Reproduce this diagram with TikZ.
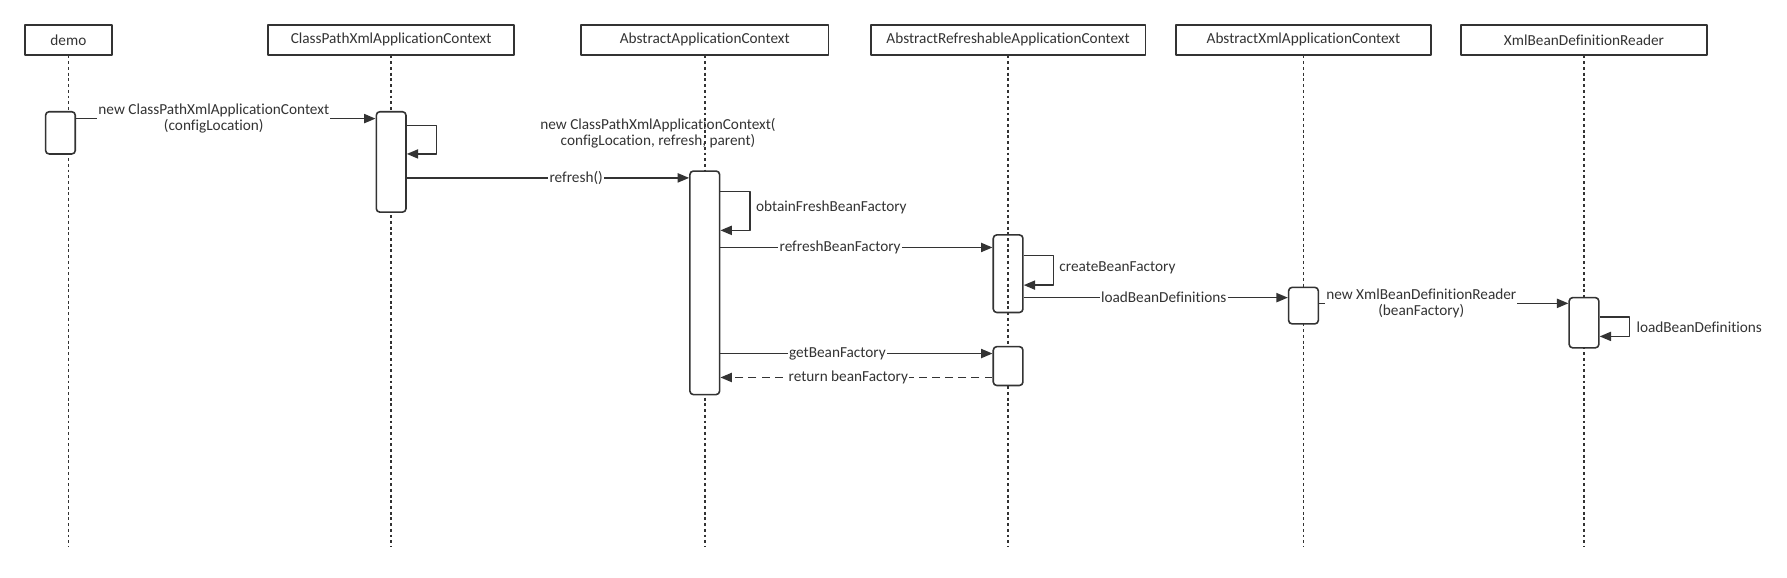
\documentclass[tikz,border=0pt]{standalone}
\usepackage{fontspec}
\setmainfont{Carlito}[Ligatures=CommonOff]
\usetikzlibrary{arrows.meta}
\definecolor{ink}{HTML}{333333}
\begin{document}
\begin{tikzpicture}[x=1pt,y=-1pt,line width=1.4pt,font=\fontsize{13.4}{14}\selectfont,color=ink,line join=round,>={Triangle[length=10pt,width=8pt]},
  head/.style={draw,minimum height=26pt,inner sep=0pt,line width=1.5pt},
  life/.style={line width=1.5pt,dash pattern=on 2.5pt off 2.5pt},
  act/.style={draw,fill=white,rounded corners=3pt,minimum width=26pt,inner sep=0pt},
  msg/.style={->},
  ret/.style={->,dash pattern=on 7pt off 4.5pt},
  lbl/.style={fill=white,inner sep=1pt,align=center}]
\useasboundingbox (0,0) rectangle (1567,506);
\node[head,minimum width=76pt] (demo) at (60,35) {demo};
\node[head,minimum width=216pt] (cpx) at (343,35) {ClassPathXmlApplicationContext};
\node[head,minimum width=217pt] (aac) at (618,35) {AbstractApplicationContext};
\node[head,minimum width=241pt] (arac) at (884,35) {AbstractRefreshableApplicationContext};
\node[head,minimum width=224pt] (axac) at (1143,35) {AbstractXmlApplicationContext};
\node[head,minimum width=216pt] (xbdr) at (1389,35) {XmlBeanDefinitionReader};
\foreach \n in {demo,cpx,aac,arac,axac,xbdr}
  \draw[life] (\n.south) -- (\n.south |- 0,480);
\node[act,minimum height=37pt] (demoA) at (53,116.5) {};
\node[act,minimum height=88pt] (cpxA) at (cpx |- 0,142) {};
\node[act,minimum height=196pt] (aacA) at (aac |- 0,248) {};
\node[act,fill=none,minimum height=68pt] (aracA) at (arac |- 0,240) {};
\node[act,minimum height=34pt] (aracB) at (arac |- 0,321) {};
\node[act,minimum height=32pt] (axacA) at (axac |- 0,268) {};
\node[act,minimum height=44pt] (xbdrA) at (xbdr |- 0,283) {};
\draw[msg] (demoA.east |- 0,104) -- (cpxA.west |- 0,104) node[lbl,pos=.46] (newCpx) {new ClassPathXmlApplicationContext\\(configLocation)};
\draw[msg] (cpxA.east |- 0,110) -- ++(26,0) -- ++(0,25) -- (cpxA.east |- 0,135);
\node[align=center] (cpxSelf) at (577,117) {new ClassPathXmlApplicationContext(\\configLocation, refresh, parent)};
\draw[msg] (cpxA.east |- 0,156) -- (aacA.west |- 0,156) node[lbl,pos=.6] (refresh) {refresh()};
\draw[msg] (aacA.east |- 0,168) -- ++(26,0) -- ++(0,34) -- (aacA.east |- 0,202);
\node[anchor=west] (obtain) at (659,182) {obtainFreshBeanFactory};
\draw[msg] (aacA.east |- 0,217) -- (aracA.west |- 0,217) node[lbl,pos=.44] (refreshBF) {refreshBeanFactory};
\draw[msg] (aracA.east |- 0,224) -- ++(26,0) -- ++(0,26) -- (aracA.east |- 0,250);
\node[anchor=west] (create) at (925,235) {createBeanFactory};
\draw[msg] (aracA.east |- 0,261) -- (axacA.west |- 0,261) node[lbl,pos=.53] (loadBD) {loadBeanDefinitions};
\draw[msg] (axacA.east |- 0,266) -- (xbdrA.west |- 0,266) node[lbl,pos=.41] (newXbdr) {new XmlBeanDefinitionReader\\(beanFactory)};
\draw[msg] (xbdrA.east |- 0,278) -- ++(26,0) -- ++(0,17) -- (xbdrA.east |- 0,295);
\node[anchor=west] (loadBD2) at (1431,287) {loadBeanDefinitions};
\draw[msg] (aacA.east |- 0,310) -- (aracB.west |- 0,310) node[lbl,pos=.43] (getBF) {getBeanFactory};
\draw[ret] (aracB.west |- 0,331) -- (aacA.east |- 0,331) node[lbl,pos=.53] (retBF) {return beanFactory};
\end{tikzpicture}
\end{document}
